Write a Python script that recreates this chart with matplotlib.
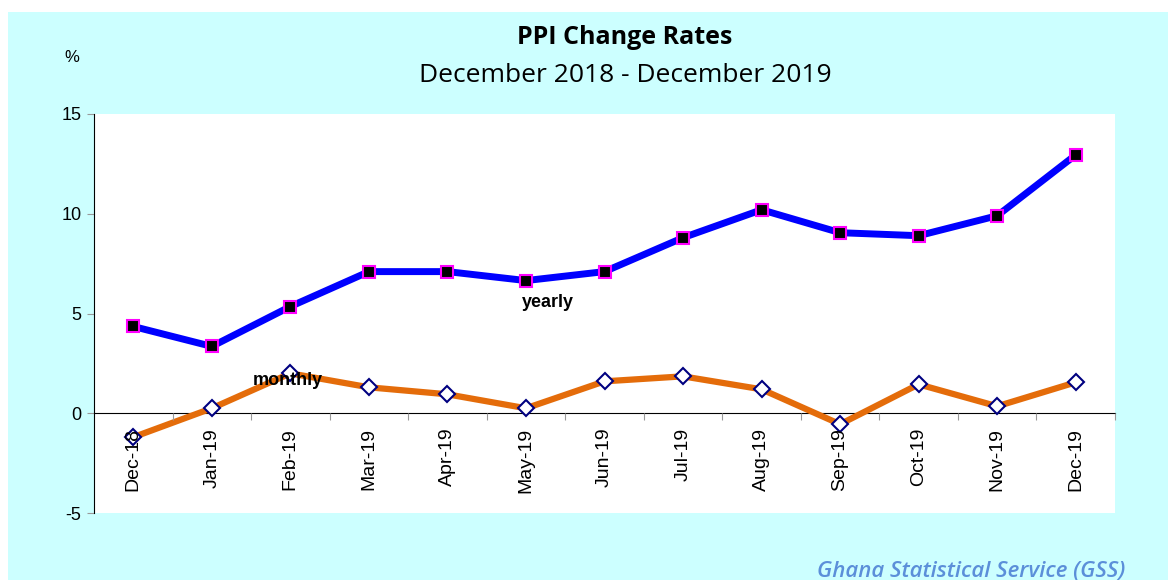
import numpy as np
import matplotlib
matplotlib.use("Agg")
import matplotlib.pyplot as plt
from matplotlib.patches import Rectangle

# data
months = ["Dec-18", "Jan-19", "Feb-19", "Mar-19", "Apr-19", "May-19", "Jun-19",
          "Jul-19", "Aug-19", "Sep-19", "Oct-19", "Nov-19", "Dec-19"]
yearly = [4.35, 3.35, 5.35, 7.1, 7.1, 6.65, 7.1, 8.8, 10.2, 9.05, 8.9, 9.9, 12.95]
monthly = [-1.2, 0.25, 2.0, 1.3, 0.95, 0.25, 1.6, 1.85, 1.2, -0.55, 1.45, 0.35, 1.55]

plt.rcParams["axes.unicode_minus"] = False

W, H = 1168, 580
fig = plt.figure(figsize=(W / 100, H / 100), dpi=100)
fig.patch.set_facecolor("white")

# cyan chart area background
fig.patches.append(Rectangle((8 / W, 0), 1 - 8 / W, 1 - 12 / H, transform=fig.transFigure,
                             facecolor="#CCFFFF", edgecolor="none", zorder=-10))

ax = fig.add_axes([94 / W, 67 / H, 1021 / W, 399 / H])
ax.set_facecolor("white")

x = np.arange(len(months)) + 0.5

ax.plot(x, monthly, color="#E46C0A", lw=4.5, marker="D", markersize=8,
        markerfacecolor="white", markeredgecolor="#000080", markeredgewidth=1.5,
        solid_joinstyle="miter", zorder=3)
ax.plot(x, yearly, color="#0000FF", lw=5, marker="s", markersize=9,
        markerfacecolor="black", markeredgecolor="#FF00FF", markeredgewidth=1.5,
        solid_joinstyle="miter", zorder=4)

ax.set_xlim(0, len(months))
ax.set_ylim(-5, 15)
ax.set_yticks([-5, 0, 5, 10, 15])

# x axis sits on the zero line, its labels drawn over the monthly line
ax.spines["top"].set_visible(False)
ax.spines["right"].set_visible(False)
ax.spines["bottom"].set_position(("data", 0))
ax.spines["bottom"].set_color("black")
ax.spines["left"].set_color("black")
ax.xaxis.set_zorder(3.5)

ax.set_xticks(np.arange(1, len(months) + 1))
ax.set_xticklabels([])
ax.set_xticks(x, minor=True)
ax.set_xticklabels(months, minor=True, rotation=90, fontsize=14,
                   family="Liberation Sans")
ax.tick_params(axis="x", which="major", direction="out", length=5, color="#999999")
ax.tick_params(axis="x", which="minor", length=0, pad=10.5)
ax.tick_params(axis="y", direction="out", length=5, color="#999999", pad=4)
for lab in ax.get_yticklabels():
    lab.set_fontsize(13)
    lab.set_family("Liberation Sans")

ax.text(5.78, 5.55, "yearly", ha="center", va="center", fontsize=13,
        fontweight="bold", family="Liberation Sans", zorder=6)
ax.text(2.47, 1.65, "monthly", ha="center", va="center", fontsize=13,
        fontweight="bold", family="Liberation Sans", zorder=6)

fig.text(625 / W, 1 - 38 / H, "PPI Change Rates", ha="center", va="center",
         fontsize=18, fontweight="bold", family="Open Sans")
fig.text(625 / W, 1 - 75 / H, "December 2018 - December 2019", ha="center", va="center",
         fontsize=19, family="Open Sans")
fig.text(72 / W, 1 - 57 / H, "%", ha="center", va="center", fontsize=12,
         family="Liberation Sans")
fig.text(1125 / W, 1 - 571 / H, "Ghana Statistical Service (GSS)", ha="right", va="center",
         fontsize=16, fontstyle="italic", fontweight="semibold", color="#5B8FD9",
         family="Open Sans")

fig.savefig("out.png", dpi=100, facecolor=fig.get_facecolor())
